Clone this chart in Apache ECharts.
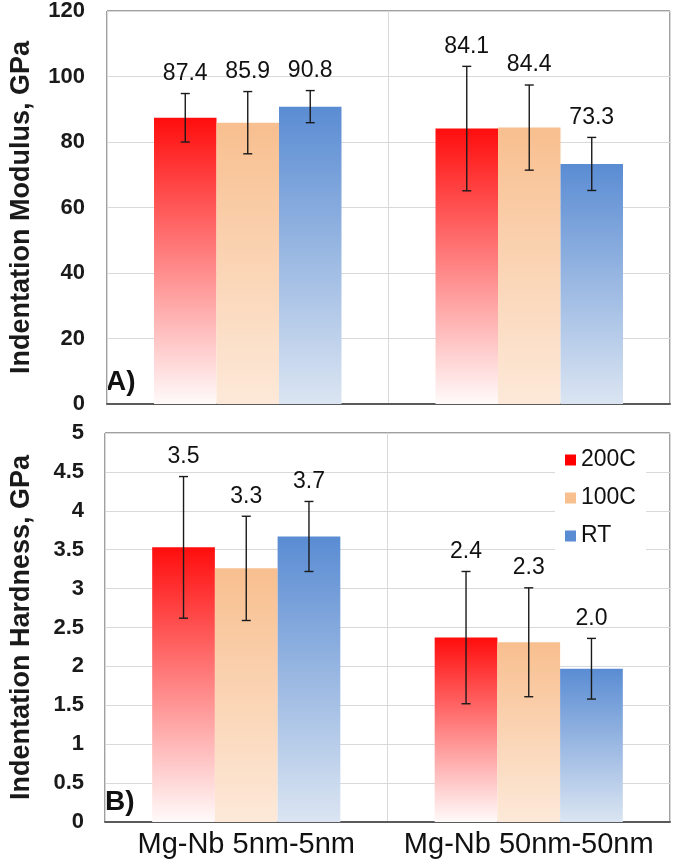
<!DOCTYPE html>
<html>
<head>
<meta charset="utf-8">
<script src="https://cdn.jsdelivr.net/npm/echarts@6/dist/echarts.min.js"></script>
<style>
  html, body { margin: 0; padding: 0; background: #fff; }
  #main { width: 675px; height: 859px; }
</style>
</head>
<body>
<div id="main"></div>
<script>
var categories = ['Mg-Nb 5nm-5nm', 'Mg-Nb 50nm-50nm'];
var temps = ['200C', '100C', 'RT'];

// indentation modulus, GPa (mean, +/- error)
var mod200 = [87.4, 84.1];
var mod100 = [85.9, 84.4];
var modRT = [90.8, 73.3];
var modErr200 = [7.4, 19.0];
var modErr100 = [9.5, 13.0];
var modErrRT = [4.9, 8.1];

// indentation hardness, GPa
var hard200 = [3.53, 2.37];
var hard100 = [3.26, 2.31];
var hardRT = [3.67, 1.97];
var hardErr200 = [0.91, 0.85];
var hardErr100 = [0.67, 0.70];
var hardErrRT = [0.45, 0.39];

var FONT = '"Liberation Sans", Arial, sans-serif';
var BAR_FRAC = 0.222;

var chartDom = document.getElementById('main');
var myChart = echarts.init(chartDom);

function grad(top, bottom) {
  return new echarts.graphic.LinearGradient(0, 0, 0, 1, [
    { offset: 0, color: top },
    { offset: 1, color: bottom }
  ]);
}
var fills = [grad('#ff0d0d', '#fffafa'), grad('#f8bf8f', '#fde9d9'), grad('#5a8cd3', '#dbe5f2')];
var solid = ['#ff0000', '#f8bf8f', '#5a8cd3'];

function errData(means, errs) {
  var out = [];
  for (var k = 0; k < means.length; k++) {
    for (var c = 0; c < categories.length; c++) {
      out.push([c, k, means[k][c] - errs[k][c], means[k][c] + errs[k][c], means[k][c]]);
    }
  }
  return out;
}

function errItem(params, api) {
  var cat = api.value(0), k = api.value(1);
  var lo = api.value(2), hi = api.value(3), v = api.value(4);
  var band = api.size([1, 0])[0];
  var dx = (k - 1) * band * BAR_FRAC;
  var pt = api.coord([cat, hi]);
  var pb = api.coord([cat, lo]);
  var x = pt[0] + dx;
  var st = { stroke: '#1a1a1a', lineWidth: 1.4 };
  return {
    type: 'group',
    children: [
      { type: 'line', shape: { x1: x, y1: pt[1], x2: x, y2: pb[1] }, style: st },
      { type: 'line', shape: { x1: x - 4.5, y1: pt[1], x2: x + 4.5, y2: pt[1] }, style: st },
      { type: 'line', shape: { x1: x - 4.5, y1: pb[1], x2: x + 4.5, y2: pb[1] }, style: st },
      { type: 'text', style: { text: v.toFixed(1), x: x, y: pt[1] - 20, align: 'center', verticalAlign: 'middle',
          fontSize: 23, fontFamily: FONT, fill: '#111' } }
    ]
  };
}

function barSeries(name, k, data, gi) {
  return {
    name: name,
    type: 'bar',
    xAxisIndex: gi,
    yAxisIndex: gi,
    barWidth: (BAR_FRAC * 100) + '%',
    barGap: '0%',
    itemStyle: { color: fills[k] },
    data: data
  };
}

var xAxisBase = {
  type: 'category',
  data: categories,
  axisTick: { show: false },
  axisLine: { lineStyle: { color: '#5a5a5a', width: 2 } },
  splitLine: { show: true, lineStyle: { color: '#d9d9d9', width: 1 } }
};

var yLabel = { fontSize: 22, fontWeight: 'bold', color: '#1a1a1a', fontFamily: FONT, margin: 22 };
var yName = { fontSize: 27, fontWeight: 'bold', color: '#1a1a1a', fontFamily: FONT };

var option = {
  animation: false,
  backgroundColor: '#fff',
  grid: [
    { left: 98, right: 5, top: 11, height: 393, show: true, borderColor: '#404040', borderWidth: 1 },
    { left: 96, right: 5, top: 433, height: 389, show: true, borderColor: '#404040', borderWidth: 1 }
  ],
  xAxis: [
    Object.assign({}, xAxisBase, { gridIndex: 0, axisLabel: { show: false } }),
    Object.assign({}, xAxisBase, { gridIndex: 1,
      axisLabel: { interval: 0, hideOverlap: false, fontSize: 29, color: '#111', fontFamily: FONT, margin: 8 } })
  ],
  yAxis: [
    { type: 'value', gridIndex: 0, min: 0, max: 120, interval: 20,
      name: 'Indentation Modulus, GPa', nameLocation: 'middle', nameGap: 72, nameTextStyle: yName,
      axisLine: { show: false }, axisTick: { show: false }, axisLabel: yLabel,
      splitLine: { lineStyle: { color: '#d9d9d9' } } },
    { type: 'value', gridIndex: 1, min: 0, max: 5, interval: 0.5,
      name: 'Indentation Hardness, GPa', nameLocation: 'middle', nameGap: 70, nameTextStyle: yName,
      axisLine: { show: false }, axisTick: { show: false }, axisLabel: Object.assign({}, yLabel, { margin: 21 }),
      splitLine: { lineStyle: { color: '#d9d9d9' } } }
  ],
  legend: {
    orient: 'vertical',
    left: 555,
    top: 440,
    padding: [8, 10, 8, 10],
    backgroundColor: '#fff',
    z: 10,
    icon: 'rect',
    itemWidth: 11,
    itemHeight: 11,
    itemGap: 14,
    textStyle: { fontSize: 23, color: '#111', fontFamily: FONT, lineHeight: 24 },
    data: temps.map(function (t, k) { return { name: t, itemStyle: { color: solid[k] } }; })
  },
  graphic: [
    { type: 'text', left: 106, top: 368, style: { text: 'A)', fontSize: 28, fontWeight: 'bold', fontFamily: FONT, fill: '#111' } },
    { type: 'text', left: 105, top: 788, style: { text: 'B)', fontSize: 28, fontWeight: 'bold', fontFamily: FONT, fill: '#111' } }
  ],
  series: [
    barSeries('200C', 0, mod200, 0),
    barSeries('100C', 1, mod100, 0),
    barSeries('RT', 2, modRT, 0),
    barSeries('200C', 0, hard200, 1),
    barSeries('100C', 1, hard100, 1),
    barSeries('RT', 2, hardRT, 1),
    {
      type: 'custom', xAxisIndex: 0, yAxisIndex: 0, z: 5,
      renderItem: errItem, encode: { x: 0, y: [2, 3] },
      data: errData([mod200, mod100, modRT], [modErr200, modErr100, modErrRT])
    },
    {
      type: 'custom', xAxisIndex: 1, yAxisIndex: 1, z: 5,
      renderItem: errItem, encode: { x: 0, y: [2, 3] },
      data: errData([hard200, hard100, hardRT], [hardErr200, hardErr100, hardErrRT])
    }
  ]
};

option && myChart.setOption(option);
</script>
</body>
</html>
